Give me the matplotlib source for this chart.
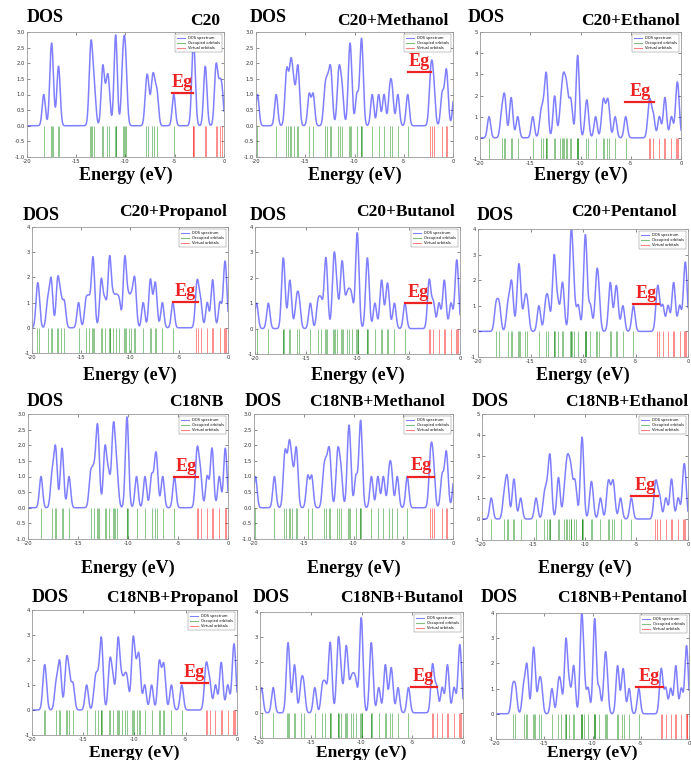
import numpy as np
import matplotlib
matplotlib.use('Agg')
import matplotlib.pyplot as plt
from matplotlib.lines import Line2D

# orbital energies (eV), repeated where levels overlap
c20_occ = [-18.3, -17.6, -17.5, -17.4, -16.85, -16.75, -13.6, -13.5, -13.4, -13.15,
           -12.35, -12.25, -11.9, -11.7, -11.05, -11.0, -10.95, -10.3, -10.2, -10.05,
           -9.95, -7.9, -7.7, -7.3, -7.1, -6.8, -5.1]
c20_virt = [-3.18, -3.1, -3.0, -1.95, -1.85, -0.85, -0.75, -0.45, -0.2]

c20_methanol_occ = [-19.85, -17.95, -16.95, -16.8, -16.5, -16.4, -16.15, -15.8, -15.7,
                    -14.6, -14.2, -13.0, -12.75, -12.5, -12.35, -11.65, -11.5, -11.25,
                    -10.55, -10.45, -10.35, -9.75, -9.35, -9.3, -9.2, -8.2, -7.55, -7.0,
                    -6.42, -6.18, -5.6, -4.6]
c20_methanol_virt = [-2.3, -2.15, -1.95, -1.1, -0.75, -0.6, 0.12]

c20_ethanol_occ = [-19.1, -17.85, -17.6, -17.5, -16.95, -16.85, -16.25, -14.75, -13.95,
                   -13.7, -13.45, -13.4, -13.35, -12.6, -12.55, -12.0, -11.8, -11.7, -11.6,
                   -11.4, -11.35, -11.05, -10.9, -10.33, -10.3, -10.27, -10.23, -9.45, -9.3,
                   -8.5, -7.8, -7.65, -7.35, -7.2, -6.55, -5.5]
c20_ethanol_virt = [-3.2, -3.05, -2.75, -2.15, -1.65, -1.55, -0.95, -0.45, -0.37, -0.25]

c20_propanol_occ = [-19.48, -19.33, -18.4, -18.1, -18.0, -17.42, -17.32, -17.05, -16.7,
                    -15.25, -14.5, -14.2, -13.85, -13.78, -13.7, -12.98, -12.88, -12.55,
                    -12.15, -12.08, -12.0, -11.7, -11.4, -11.1, -10.6, -10.52, -10.45, -10.15,
                    -9.85, -9.57, -9.47, -8.65, -7.97, -7.87, -7.5, -7.35, -6.7, -5.63]
c20_propanol_virt = [-3.22, -3.08, -2.8, -2.12, -1.62, -1.52, -0.82, -0.4, -0.3, -0.2]

c20_butanol_occ = [-19.85, -18.7, -17.3, -17.25, -17.15, -16.65, -16.55, -15.95, -15.7,
                   -14.6, -13.85, -13.55, -13.15, -13.1, -13.0, -12.35, -12.3, -12.2, -12.0,
                   -11.6, -11.5, -11.4, -11.05, -10.8, -10.55, -10.1, -10.05, -10.0, -9.95,
                   -9.1, -9.05, -8.95, -8.3, -7.7, -7.6, -7.15, -7.0, -6.4, -5.37]
c20_butanol_virt = [-3.05, -2.95, -2.6, -2.05, -1.58, -1.48, -0.88, -0.4, -0.32, -0.22]

c20_pentanol_occ = [-18.28, -17.98, -17.15, -16.85, -16.75, -16.2, -16.1, -16.0, -15.55,
                    -15.3, -14.2, -13.55, -13.3, -12.8, -12.75, -12.7, -12.4, -12.0, -11.9,
                    -11.2, -11.15, -11.1, -11.05, -10.85, -10.45, -9.85, -9.8, -9.75, -9.7,
                    -9.3, -8.75, -8.65, -8.5, -7.45, -7.35, -6.9, -6.75, -6.2, -5.2]
c20_pentanol_virt = [-2.95, -2.8, -2.4, -1.9, -1.42, -1.32, -0.8, -0.35, -0.25, -0.17]

c18nb_occ = [-18.7, -17.6, -17.3, -17.2, -16.65, -16.55, -15.9, -13.75, -13.45, -13.15,
             -13.05, -12.95, -12.35, -12.25, -11.95, -11.55, -11.45, -11.35, -11.1, -10.15,
             -10.1, -10.05, -9.15, -8.3, -7.64, -7.28, -7.12, -6.53, -5.36]
c18nb_virt = [-3.15, -3.02, -2.75, -2.08, -1.65, -1.55, -0.87, -0.32, -0.22]

c18nb_methanol_occ = [-19.85, -17.95, -16.95, -16.8, -16.5, -16.4, -16.15, -15.8, -15.7,
                      -14.6, -14.2, -13.0, -12.75, -12.5, -12.35, -11.65, -11.5, -11.25,
                      -10.55, -10.45, -10.35, -9.75, -9.35, -9.3, -9.2, -8.2, -7.55, -7.0,
                      -6.42, -6.18, -5.6, -4.6]
c18nb_methanol_virt = [-2.3, -2.15, -1.95, -1.1, -0.75, -0.6, 0.12]

c18nb_ethanol_occ = [-19.1, -17.85, -17.6, -17.5, -16.95, -16.85, -16.25, -14.75, -13.95,
                     -13.7, -13.45, -13.4, -13.35, -12.6, -12.55, -12.0, -11.8, -11.7, -11.6,
                     -11.4, -11.35, -11.05, -10.9, -10.33, -10.3, -10.27, -10.23, -9.45, -9.3,
                     -8.5, -7.8, -7.65, -7.35, -7.2, -6.55, -5.5]
c18nb_ethanol_virt = [-3.2, -3.05, -2.75, -2.15, -1.65, -1.55, -0.95, -0.45, -0.37, -0.25]

c18nb_propanol_occ = [-18.83, -18.69, -17.65, -17.35, -17.25, -16.68, -16.58, -16.35, -16.0,
                      -14.67, -13.85, -13.6, -13.3, -13.24, -13.17, -12.45, -12.35, -12.1,
                      -11.67, -11.6, -11.53, -11.25, -10.95, -10.7, -10.2, -10.13, -10.06,
                      -9.8, -9.6, -9.5, -9.0, -8.33, -7.63, -7.53, -7.22, -7.08, -6.4, -5.39]
c18nb_propanol_virt = [-3.07, -2.93, -2.65, -2.1, -1.59, -1.49, -0.9, -0.39, -0.29, -0.19]

c18nb_butanol_occ = [-19.85, -18.7, -17.3, -17.25, -17.15, -16.65, -16.55, -15.95, -15.7,
                     -14.6, -13.85, -13.55, -13.15, -13.1, -13.0, -12.35, -12.3, -12.2, -12.0,
                     -11.6, -11.5, -11.4, -11.05, -10.8, -10.55, -10.1, -10.05, -10.0, -9.95,
                     -9.1, -9.05, -8.95, -8.3, -7.7, -7.6, -7.15, -7.0, -6.4, -5.37]
c18nb_butanol_virt = [-3.05, -2.95, -2.6, -2.05, -1.58, -1.48, -0.88, -0.4, -0.32, -0.22]

c18nb_pentanol_occ = [-18.28, -17.98, -17.15, -16.85, -16.75, -16.2, -16.1, -16.0, -15.55,
                      -15.3, -14.2, -13.55, -13.3, -12.8, -12.75, -12.7, -12.4, -12.0, -11.9,
                      -11.2, -11.15, -11.1, -11.05, -10.85, -10.45, -9.85, -9.8, -9.75, -9.7,
                      -9.3, -8.75, -8.65, -8.5, -7.45, -7.35, -6.9, -6.75, -6.2, -5.2]
c18nb_pentanol_virt = [-2.95, -2.8, -2.4, -1.9, -1.42, -1.32, -0.8, -0.35, -0.25, -0.17]

names = ['C20', 'C20+Methanol', 'C20+Ethanol',
         'C20+Propanol', 'C20+Butanol', 'C20+Pentanol',
         'C18NB', 'C18NB+Methanol', 'C18NB+Ethanol',
         'C18NB+Propanol', 'C18NB+Butanol', 'C18NB+Pentanol']
occupied = [c20_occ, c20_methanol_occ, c20_ethanol_occ,
            c20_propanol_occ, c20_butanol_occ, c20_pentanol_occ,
            c18nb_occ, c18nb_methanol_occ, c18nb_ethanol_occ,
            c18nb_propanol_occ, c18nb_butanol_occ, c18nb_pentanol_occ]
virtual = [c20_virt, c20_methanol_virt, c20_ethanol_virt,
           c20_propanol_virt, c20_butanol_virt, c20_pentanol_virt,
           c18nb_virt, c18nb_methanol_virt, c18nb_ethanol_virt,
           c18nb_propanol_virt, c18nb_butanol_virt, c18nb_pentanol_virt]
y_max = [3, 3, 5, 4, 4, 4, 3, 3, 5, 4, 4, 4]

# gap marker: HOMO side, LUMO side, height of bar
eg_x0 = [-5.3, -4.6, -5.55, -5.6, -5.35, -5.25, -5.45, -4.5, -5.5, -5.5, -5.15, -5.5]
eg_x1 = [-3.1, -2.2, -2.65, -3.05, -2.85, -2.75, -3.0, -1.95, -2.9, -2.85, -2.6, -2.65]
eg_y = [1.06, 1.72, 1.7, 1.04, 1.01, 1.06, 0.99, 1.0, 1.08, 1.07, 1.04, 1.06]

SIGMA = 0.16
energy = np.linspace(-20, 0.6, 3000)


def dos(levels):
    lv = np.asarray(levels)[:, None]
    return np.exp(-(energy[None, :] - lv) ** 2 / (2 * SIGMA ** 2)).sum(axis=0)


W, H = 691, 760
# axes boxes in pixels: left, right, top, bottom
boxes = [(27, 224, 32, 157), (256, 453, 32, 157), (480, 681, 32, 159),
         (32, 228, 227, 353), (255, 460, 227, 354), (478, 688, 229, 357),
         (28, 228, 414, 539), (254, 453, 414, 539), (482, 688, 414, 540),
         (32, 237, 610, 735), (260, 463, 612, 738), (496, 689, 613, 739)]
dos_x = [27, 250, 468, 23, 250, 477, 27, 245, 472, 32, 253, 481]
dos_y = [18, 18, 18, 215, 215, 215, 401, 401, 401, 597, 597, 597]
name_x = [220, 448, 680, 227, 455, 677, 223, 445, 688, 238, 463, 687]
name_y = [21, 21, 21, 212, 212, 212, 402, 402, 402, 598, 598, 598]
xl_y = [175, 175, 175, 375, 375, 375, 568, 568, 568, 753, 753, 753]
xl_size = [13, 13, 13, 13, 13, 13, 13, 13, 13, 12.5, 12.5, 12.5]

serif = dict(family='Liberation Serif', weight='bold')

fig = plt.figure(figsize=(W / 100, H / 100), dpi=100)

for i in range(12):
    l, r, t, b = boxes[i]
    ax = fig.add_axes([l / W, 1 - b / H, (r - l) / W, (b - t) / H])
    ax.plot(energy, dos(occupied[i] + virtual[i]), color='b', alpha=0.5, lw=1.1)
    ax.vlines(occupied[i], -1, 0, color='g', alpha=0.45, lw=0.7)
    ax.vlines(virtual[i], -1, 0, color='r', alpha=0.45, lw=0.7)
    ax.set_xlim(-20, 0)
    ax.set_ylim(-1, y_max[i])
    ax.set_xticks([-20, -15, -10, -5, 0])
    ax.set_xticklabels(['-20', '-15', '-10', '-5', '0'])
    if y_max[i] == 3:
        yt = np.arange(-1, 3.01, 0.5)
        ax.set_yticks(yt)
        ax.set_yticklabels(['%.1f' % v for v in yt])
    else:
        yt = np.arange(-1, y_max[i] + 1)
        ax.set_yticks(yt)
        ax.set_yticklabels(['%d' % v for v in yt])
    ax.tick_params(labelsize=3.8, length=2, width=0.4, direction='in',
                   pad=1.5, colors='#333333', top=True, right=True)
    for s in ax.spines.values():
        s.set_color('#999999')
        s.set_linewidth(0.6)

    handles = [Line2D([], [], color='b', alpha=0.5, lw=0.8),
               Line2D([], [], color='g', alpha=0.5, lw=0.8),
               Line2D([], [], color='r', alpha=0.5, lw=0.8)]
    leg = ax.legend(handles, ['DOS spectrum', 'Occupied orbitals', 'Virtual orbitals'],
                    loc='upper right', fontsize=2.6, handlelength=2.2, borderpad=0.5,
                    labelspacing=0.3, fancybox=False, framealpha=1,
                    borderaxespad=0.6)
    leg.get_frame().set_linewidth(0.3)
    leg.get_frame().set_edgecolor('#777777')

    # energy gap marker
    ax.plot([eg_x0[i], eg_x1[i]], [eg_y[i], eg_y[i]], color='#ee2222', lw=1.6)
    ax.annotate('Eg', ((eg_x0[i] + eg_x1[i]) / 2, eg_y[i]), xytext=(0, 1.5),
                textcoords='offset points', ha='center', va='bottom',
                color='#ee2222', fontsize=13, **serif)

    fig.text(dos_x[i] / W, 1 - dos_y[i] / H, 'DOS', ha='left', va='center',
             fontsize=13, **serif)
    fig.text(name_x[i] / W, 1 - name_y[i] / H, names[i], ha='right', va='center',
             fontsize=12.5, **serif)
    fig.text((l + r) / 2 / W, 1 - xl_y[i] / H, 'Energy (eV)', ha='center',
             va='center', fontsize=xl_size[i], **serif)

fig.savefig('out.png', dpi=100)
